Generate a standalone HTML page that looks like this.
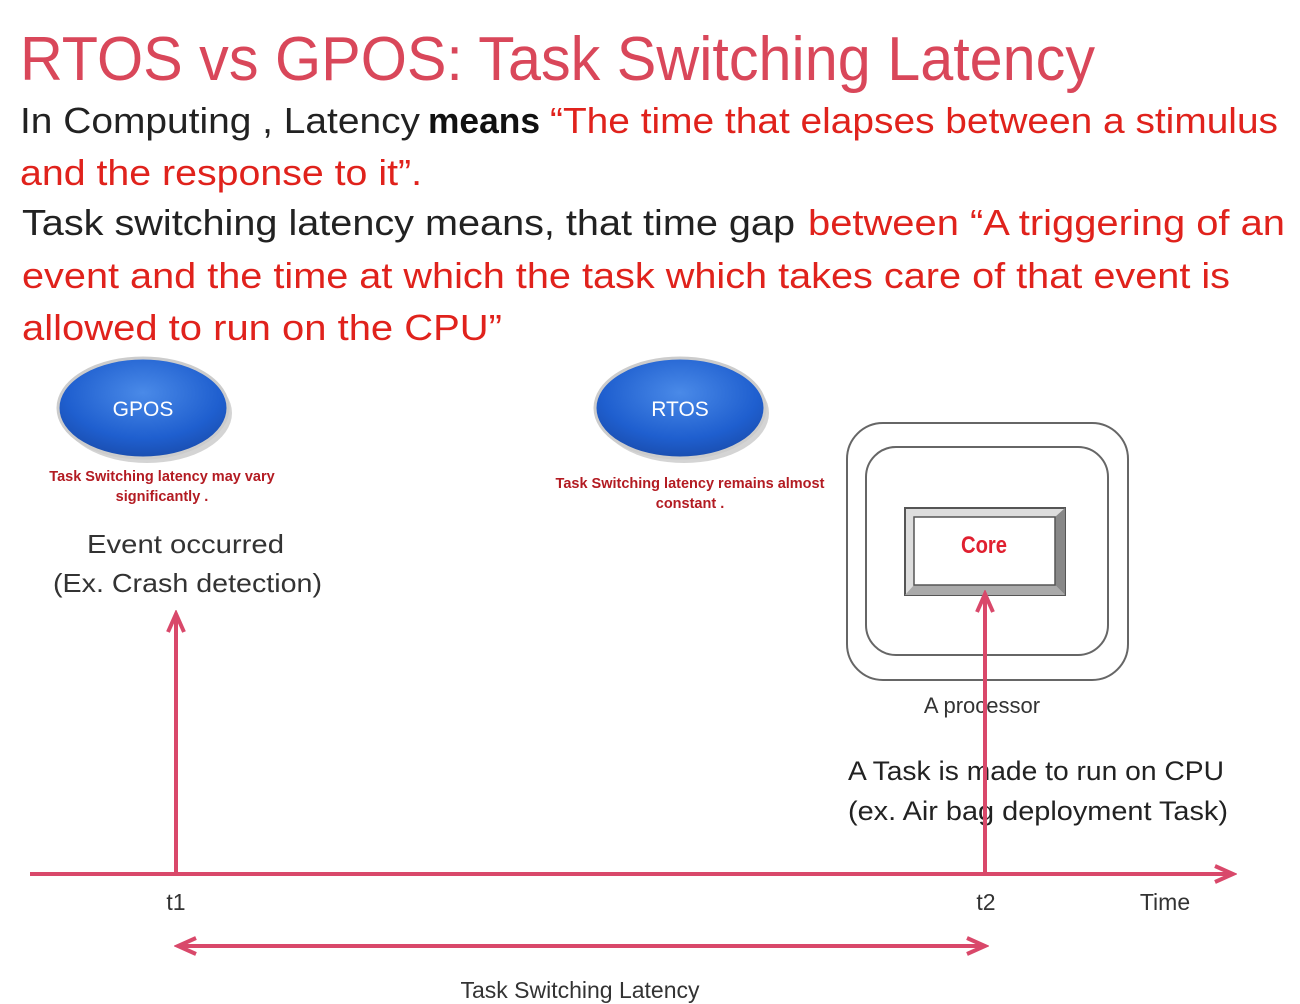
<!DOCTYPE html>
<html><head><meta charset="utf-8"><style>
html,body{margin:0;padding:0;background:#fff;}
svg{display:block;font-family:"Liberation Sans",sans-serif;}
</style></head><body>
<svg width="1300" height="1004" viewBox="0 0 1300 1004" xmlns="http://www.w3.org/2000/svg">
<defs>
<radialGradient id="bl" cx="50%" cy="35%" r="65%">
<stop offset="0" stop-color="#4a8ae8"/><stop offset="0.7" stop-color="#1f5fcf"/><stop offset="1" stop-color="#1a4eb0"/>
</radialGradient>
<marker id="ah2" markerWidth="24" markerHeight="20" refX="20" refY="10" orient="auto-start-reverse" markerUnits="userSpaceOnUse">
<path d="M2,2 L20,10 L2,18" fill="none" stroke="#d9486a" stroke-width="4"/>
</marker>
</defs>
<text x="20" y="80" font-size="62" fill="#d9475a" textLength="1075" lengthAdjust="spacingAndGlyphs">RTOS vs GPOS: Task Switching Latency</text>
<text x="20" y="133" font-size="36" fill="#222" textLength="400" lengthAdjust="spacingAndGlyphs">In Computing , Latency</text>
<text x="428" y="133" font-size="36" fill="#111" font-weight="bold" textLength="112" lengthAdjust="spacingAndGlyphs">means</text>
<text x="550" y="133" font-size="36" fill="#e0221c" textLength="728" lengthAdjust="spacingAndGlyphs">“The time that elapses between a stimulus</text>
<text x="20" y="185" font-size="36" fill="#e0221c" textLength="402" lengthAdjust="spacingAndGlyphs">and the response to it”.</text>
<text x="22" y="235" font-size="36" fill="#222" textLength="773" lengthAdjust="spacingAndGlyphs">Task switching latency means, that time gap</text>
<text x="808" y="235" font-size="36" fill="#e0221c" textLength="477" lengthAdjust="spacingAndGlyphs">between “A triggering of an</text>
<text x="22" y="288" font-size="36" fill="#e0221c" textLength="1208" lengthAdjust="spacingAndGlyphs">event and the time at which the task which takes care of that event is</text>
<text x="22" y="340" font-size="36" fill="#e0221c" textLength="480" lengthAdjust="spacingAndGlyphs">allowed to run on the CPU”</text>

<ellipse cx="147" cy="413" rx="85" ry="50" fill="#aaa" opacity="0.5"/>
<ellipse cx="143" cy="408" rx="85" ry="50" fill="url(#bl)" stroke="#ccc" stroke-width="3"/>
<text x="143" y="416" font-size="21" fill="#fff" text-anchor="middle">GPOS</text>
<ellipse cx="684" cy="413" rx="85" ry="50" fill="#aaa" opacity="0.5"/>
<ellipse cx="680" cy="408" rx="85" ry="50" fill="url(#bl)" stroke="#ccc" stroke-width="3"/>
<text x="680" y="416" font-size="21" fill="#fff" text-anchor="middle">RTOS</text>
<g font-size="14.5" font-weight="bold" fill="#b31b22" text-anchor="middle">
<text x="162" y="481">Task Switching latency may vary</text>
<text x="162" y="501">significantly .</text>
<text x="690" y="488">Task Switching latency remains almost</text>
<text x="690" y="508">constant .</text>
</g>
<g font-size="26" fill="#333">
<text x="87" y="553" textLength="197" lengthAdjust="spacingAndGlyphs">Event occurred</text>
<text x="53" y="592" textLength="269" lengthAdjust="spacingAndGlyphs">(Ex. Crash detection)</text>
</g>

<rect x="847" y="423" width="281" height="257" rx="36" fill="none" stroke="#666" stroke-width="2"/>
<rect x="866" y="447" width="242" height="208" rx="30" fill="none" stroke="#666" stroke-width="2"/>
<rect x="905" y="508" width="160" height="87" fill="#ddd" stroke="#555" stroke-width="2"/>
<polygon points="1055,517 1065,508 1065,595 1055,585" fill="#888"/>
<polygon points="914,585 1055,585 1065,595 905,595" fill="#aaa"/>
<rect x="914" y="517" width="141" height="68" fill="#fff" stroke="#555" stroke-width="1.5"/>
<text x="984" y="553" font-size="24" font-weight="bold" fill="#e02030" text-anchor="middle" textLength="46" lengthAdjust="spacingAndGlyphs">Core</text>
<text x="982" y="713" font-size="22" fill="#333" text-anchor="middle">A processor</text>
<text x="848" y="780" font-size="27" fill="#222" textLength="376" lengthAdjust="spacingAndGlyphs">A Task is made to run on CPU</text>
<text x="848" y="820" font-size="27" fill="#222" textLength="380" lengthAdjust="spacingAndGlyphs">(ex. Air bag deployment Task)</text>

<g stroke="#d9486a" stroke-width="4" fill="none">
<line x1="30" y1="874" x2="1233" y2="874" marker-end="url(#ah2)"/>
<line x1="176" y1="874" x2="176" y2="614" marker-end="url(#ah2)"/>
<line x1="985" y1="874" x2="985" y2="594" marker-end="url(#ah2)"/>
<line x1="178" y1="946" x2="985" y2="946" marker-start="url(#ah2)" marker-end="url(#ah2)"/>
</g>
<g font-size="23" fill="#333" text-anchor="middle">
<text x="176" y="910">t1</text>
<text x="986" y="910">t2</text>
<text x="1165" y="910">Time</text>
<text x="580" y="998">Task Switching Latency</text>
</g>
</svg>
</body></html>
